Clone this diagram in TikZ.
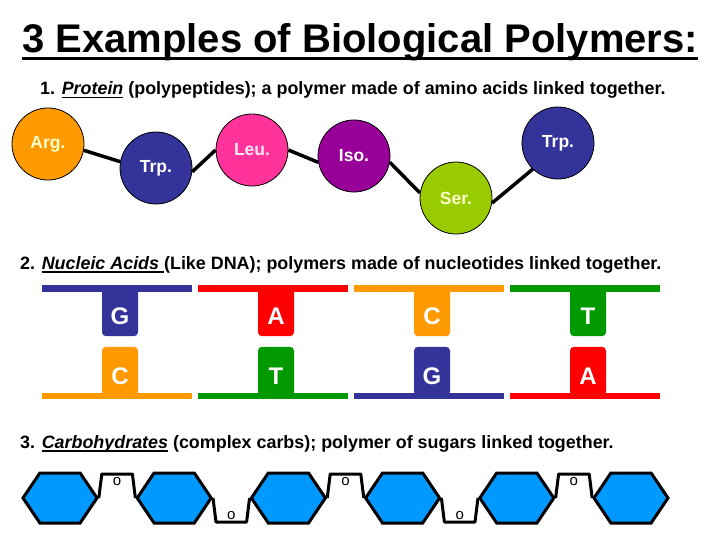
\documentclass[tikz,border=0pt]{standalone}
\usepackage{fontspec}
\setmainfont{Liberation Sans}
\usetikzlibrary{shapes.symbols, calc}

\definecolor{argorange}{HTML}{FF9900}
\definecolor{navy}{HTML}{333399}
\definecolor{leupink}{HTML}{FF3399}
\definecolor{isopurple}{HTML}{990099}
\definecolor{sergreen}{HTML}{99CC00}
\definecolor{argtext}{HTML}{FFFFCC}
\definecolor{leutext}{HTML}{FFE6F2}
\definecolor{dnared}{HTML}{FF0000}
\definecolor{dnagreen}{HTML}{009900}
\definecolor{sugarblue}{HTML}{0099FF}

% underline: depth of rule bottom, thickness, text
\newsavebox\ulinebox
\newcommand\lineunder[3]{\sbox\ulinebox{#3}\rlap{\rule[-#1]{\wd\ulinebox}{#2}}\usebox\ulinebox}

\begin{document}
\begin{tikzpicture}[x=1pt, y=-1pt,
    heading/.style={anchor=base west, inner sep=0pt,
                    font=\bfseries\fontsize{17.9}{20}\selectfont},
    amino/.style={circle, draw=black, line width=0.8pt, minimum size=72pt,
                  inner sep=0pt, font=\bfseries\fontsize{17.5}{20}\selectfont},
    bond/.style={line width=3.5pt},
    nucleo/.style={rectangle, rounded corners=4pt, minimum width=36pt,
                   minimum height=49pt, inner sep=0pt, text=white,
                   text height=26.2pt, text depth=0pt,
                   font=\bfseries\fontsize{24}{24}\selectfont},
    sugar/.style={signal, signal to=east and west, signal pointer angle=112,
                  draw=black, line width=3pt, fill=sugarblue,
                  minimum width=74pt, minimum height=50pt, inner sep=0pt},
    glyco/.style={line width=3pt, line join=round},
    oxy/.style={inner sep=0pt, font=\fontsize{15}{15}\selectfont}
]
    \useasboundingbox (0,0) rectangle (720,540);

    % headings
    \node[anchor=base west, inner sep=0pt, font=\bfseries\fontsize{40}{44}\selectfont]
        (title) at (22,53) {\lineunder{7pt}{3pt}{3 Examples of Biological Polymers:}};
    \node[heading] (protein) at (40,95)
        {1. \lineunder{3.5pt}{1.5pt}{\textit{Protein}} (polypeptides); a polymer made of amino acids linked together.};
    \node[heading] (nucleic) at (20,269)
        {2. \lineunder{3.5pt}{1.5pt}{\textit{Nucleic Acids} }(Like DNA); polymers made of nucleotides linked together.};
    \node[heading] (carbs) at (20,448)
        {3. \lineunder{3.5pt}{1.5pt}{\textit{Carbohydrates}} (complex carbs); polymer of sugars linked together.};

    % protein chain
    \node[amino, fill=argorange, text=argtext] (arg)  at (48,144)  {Arg.};
    \node[amino, fill=navy, text=white]        (trpA) at (156,168) {Trp.};
    \node[amino, fill=leupink, text=leutext]   (leu)  at (252,150) {Leu.};
    \node[amino, fill=isopurple, text=white]   (iso)  at (354,156) {Iso.};
    \node[amino, fill=sergreen, text=argtext]  (ser)  at (456,198) {Ser.};
    \node[amino, fill=navy, text=white]        (trpB) at (558,143) {Trp.};

    \draw[bond] (arg.-10)  -- (trpA.170);
    \draw[bond] (trpA.-6)  -- (leu.180);
    \draw[bond] (leu.0)    -- (iso.190);
    \draw[bond] (iso.-10)  -- (ser.172);
    \draw[bond] (ser.-8)   -- (trpB.226);

    % nucleic acid pairs
    \foreach \i/\x/\ct/\lt/\cb/\lb in {1/42/navy/G/argorange/C, 2/198/dnared/A/dnagreen/T,
                                      3/354/argorange/C/navy/G, 4/510/dnagreen/T/dnared/A} {
        \node[nucleo, fill=\ct, anchor=north] (top\i) at (\x+78,287) {\lt};
        \fill[\ct] (\x,285) rectangle (\x+150,292);
        \node[nucleo, fill=\cb, anchor=south] (bot\i) at (\x+78,396) {\lb};
        \fill[\cb] (\x,393) rectangle (\x+150,399);
    }

    % sugar chain
    \foreach \i in {1,...,6}
        \node[sugar] (h\i) at ({60+114.2*(\i-1)},498) {};

    \draw[glyco] (h1.east) -- ++(3,-24) -- node[oxy, below=1.5pt] {o} ($(h2.west)+(-3,-24)$) -- (h2.west);
    \draw[glyco] (h2.east) -- ++(3,24)  -- node[oxy, above=1pt] {o} ($(h3.west)+(-3,24)$)  -- (h3.west);
    \draw[glyco] (h3.east) -- ++(3,-24) -- node[oxy, below=1.5pt] {o} ($(h4.west)+(-3,-24)$) -- (h4.west);
    \draw[glyco] (h4.east) -- ++(3,24)  -- node[oxy, above=1pt] {o} ($(h5.west)+(-3,24)$)  -- (h5.west);
    \draw[glyco] (h5.east) -- ++(3,-24) -- node[oxy, below=1.5pt] {o} ($(h6.west)+(-3,-24)$) -- (h6.west);
\end{tikzpicture}
\end{document}
